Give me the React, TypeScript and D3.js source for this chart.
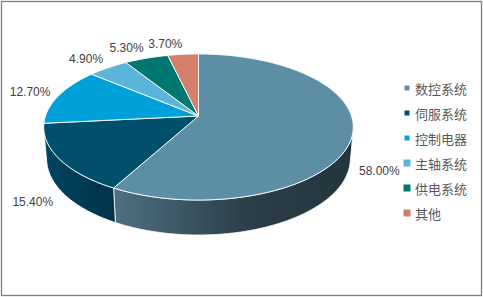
import React from "react";
import * as d3 from "d3";

const categories = ["数控系统", "伺服系统", "控制电器", "主轴系统", "供电系统", "其他"];
const values = [58.0, 15.4, 12.7, 4.9, 5.3, 3.7];
const labels = ["58.00%", "15.40%", "12.70%", "4.90%", "5.30%", "3.70%"];
const topColors = ["#5C8FA6", "#004F6B", "#00A0DA", "#5BB5DB", "#00786F", "#D47F6A"];
const wallColors: [string, string, string][] = [
  ["#4E7081", "#2B3F49", "#23343C"],
  ["#004560", "#003B53", "#00334A"],
  ["#007AA6", "#006A90", "#005C7C"],
  ["#468BA6", "#3C7890", "#336A7E"],
  ["#005C55", "#005049", "#004640"],
  ["#A26152", "#8E5548", "#7C4A3F"],
];

const W = 483;
const H = 297;
const CX = 198.5;
const CY = 116;
const ALPHA = (27.8 * Math.PI) / 180;
const SA = Math.sin(ALPHA);
const CA = Math.cos(ALPHA);
const K = 5.871;
const F = 898.3;
const DEPTH = 0.236;

// perspective projection of a point on the pie (angle theta clockwise from top, radius r, height y)
function proj(theta: number, r: number, y: number): [number, number] {
  const X = r * Math.sin(theta);
  const Z = r * Math.cos(theta);
  const yc = y * CA + Z * SA;
  const zc = -y * SA + Z * CA + K;
  return [CX + (F * X) / zc, CY - (F * yc) / zc];
}

// visible range of the outer wall: cos(theta) < -1/(K*CA)
const visLimit = Math.acos(-1 / (K * CA));
const VIS0 = visLimit;
const VIS1 = 2 * Math.PI - visLimit;

function sample(a0: number, a1: number, r: number, y: number) {
  const n = Math.max(2, Math.ceil(((a1 - a0) * 180) / Math.PI));
  return d3.range(n + 1).map((i) => proj(a0 + ((a1 - a0) * i) / n, r, y));
}

const lineGen = d3.line<[number, number]>().x((d) => d[0]).y((d) => d[1]);

export default function App() {
  const pie = d3
    .pie<number>()
    .sort(null)
    .startAngle(0)
    .endAngle(2 * Math.PI)
    .value((d) => d);
  const arcs = pie(values);

  const walls = arcs
    .map((a, i) => {
      const s = Math.max(a.startAngle, VIS0);
      const e = Math.min(a.endAngle, VIS1);
      if (e <= s) return null;
      const top = sample(s, e, 1, 0);
      const bot = sample(s, e, 1, -DEPTH).reverse();
      return { i, d: lineGen([...top, ...bot]) + "Z" };
    })
    .filter(Boolean) as { i: number; d: string }[];

  const tops = arcs.map((a, i) => {
    const pts: [number, number][] = [proj(0, 0, 0), ...sample(a.startAngle, a.endAngle, 1, 0)];
    return { i, d: lineGen(pts) + "Z" };
  });

  const labelPos = arcs.map((a, i) => {
    const mid = (a.startAngle + a.endAngle) / 2;
    const front = Math.cos(mid) < 0;
    const yy = front ? -DEPTH : 0;
    const px = proj(mid, 1.06, yy);
    const py = proj(mid, 1.2, yy);
    const right = Math.sin(mid) > 0;
    return { x: px[0], y: py[1], anchor: right ? "start" : "end", text: labels[i] };
  });

  const legendY = d3.scalePoint<string>().domain(categories).range([88, 213]);

  return (
    <svg
      width={W}
      height={H}
      style={{ position: "absolute", left: 0, top: 0, background: "#fff" }}
    >
      <defs>
        {wallColors.map((c, i) => (
          <linearGradient key={i} id={`wg${i}`} x1="0" y1="0" x2="1" y2="0">
            <stop offset="0%" stopColor={c[0]} />
            <stop offset="55%" stopColor={c[1]} />
            <stop offset="100%" stopColor={c[2]} />
          </linearGradient>
        ))}
      </defs>
      <rect x={1.5} y={1.5} width={480} height={294} fill="#fff" stroke="#7F7F7F" strokeWidth={1.3} />
      <g>
        {walls.map((w) => (
          <path key={`w${w.i}`} d={w.d} fill={`url(#wg${w.i})`} stroke="#fff" strokeWidth={0.8} strokeLinejoin="round" />
        ))}
        {tops.map((t) => (
          <path key={`t${t.i}`} d={t.d} fill={topColors[t.i]} stroke="#fff" strokeWidth={0.9} strokeLinejoin="round" />
        ))}
      </g>
      <g fontFamily="'Liberation Sans', Arial, sans-serif" fontSize={12} fill="#404040">
        {labelPos.map((l, i) => (
          <text key={i} x={l.x} y={l.y} textAnchor={l.anchor} dominantBaseline="central">
            {l.text}
          </text>
        ))}
      </g>
      <g fontFamily="'Noto Sans CJK SC', sans-serif" fontSize={13} fill="#595959">
        {categories.map((c, i) => {
          const y = legendY(c) as number;
          const s = i < 3 ? 5 : 7;
          return (
            <g key={c}>
              <rect x={407 - s / 2} y={y - s / 2} width={s} height={s} fill={topColors[i]} />
              <text x={415} y={y} dominantBaseline="central">
                {c}
              </text>
            </g>
          );
        })}
      </g>
    </svg>
  );
}
